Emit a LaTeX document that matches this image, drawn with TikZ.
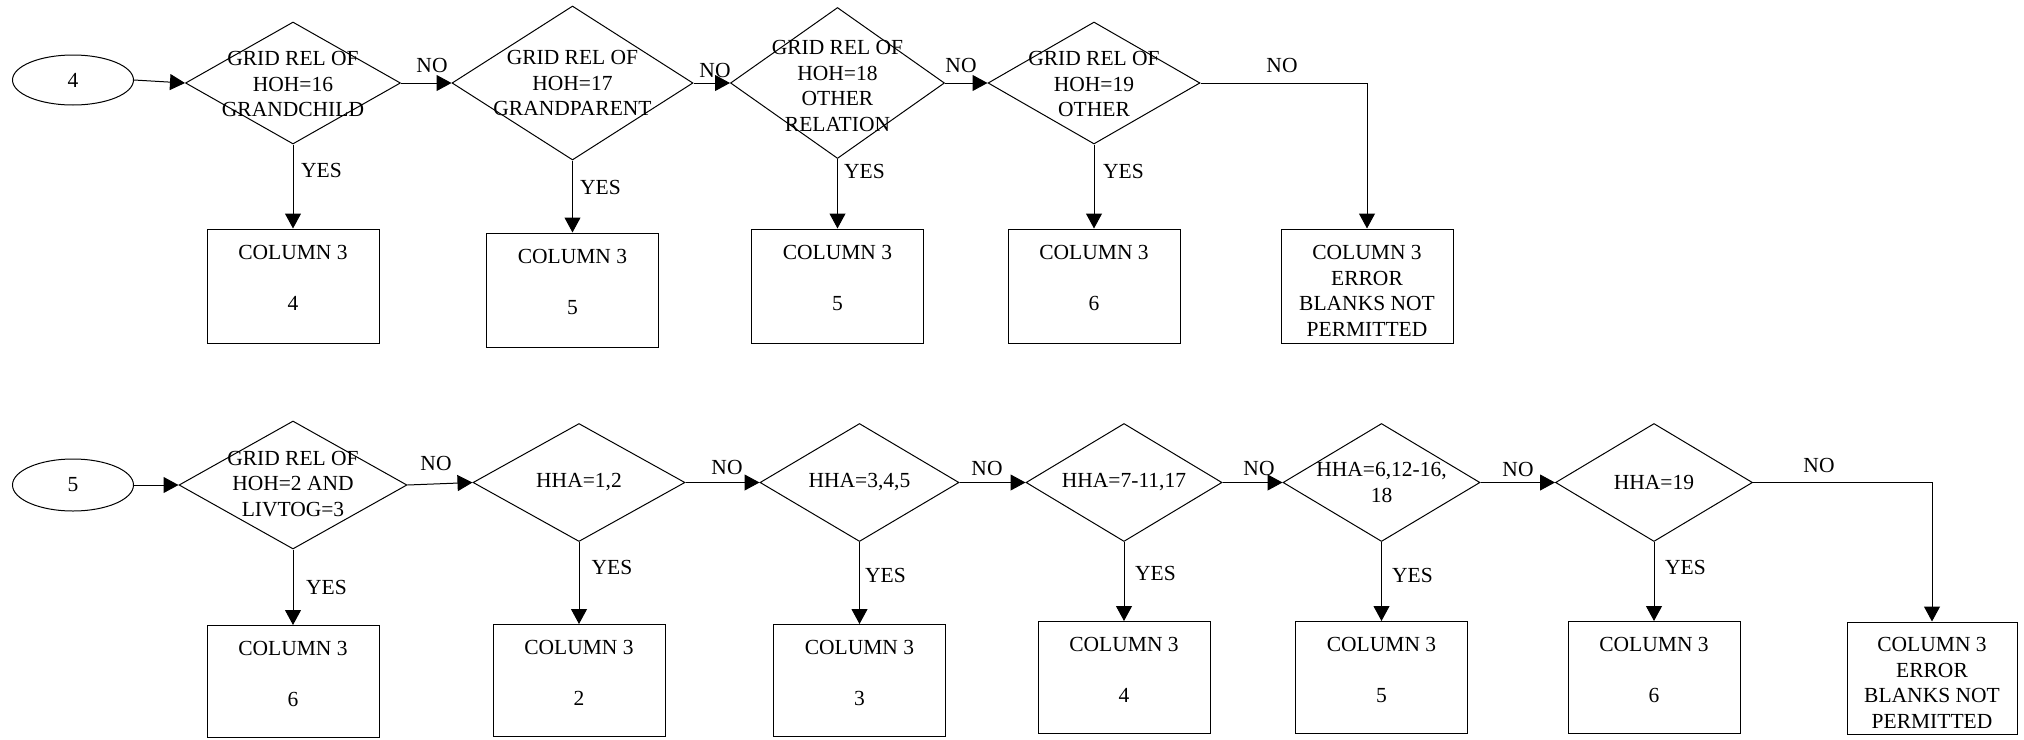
\documentclass[tikz,border=0pt]{standalone}
\usepackage{fontspec}
\setmainfont{Liberation Serif}
\usetikzlibrary{shapes.geometric,arrows.meta}

% raises the top of a text block so that it sits a little lower in its box
\newcommand{\toppad}{\rule{0pt}{24pt}}

\tikzset{
  conn/.style={draw, line width=1pt, -{Triangle[length=15pt,width=16pt]}},
  decision/.style={draw, diamond, inner sep=0pt, line width=1pt},
  dtext/.style={align=center, inner sep=0pt},
  result/.style={draw, rectangle, line width=1pt, inner sep=0pt, align=center,
                 minimum width=172pt},
  start/.style={draw, ellipse, line width=1pt, inner sep=0pt, minimum width=121pt},
  lbl/.style={inner sep=0pt},
  yeslbl/.style={inner sep=0pt, anchor=west},
}

\begin{document}
\begin{tikzpicture}[x=1pt, y=-1pt, font=\fontsize{21.5}{25.5}\selectfont]
\useasboundingbox (0,0) rectangle (2024,739);
\fill[white] (0,0) rectangle (2024,739);

% ---------- first chain: entry 4 ----------
\node[start, minimum height=50pt] (e1) at (73,80) {4};

\node[decision, minimum width=215pt, minimum height=122pt] (d1) at (293,83) {};
\node[dtext] (d1t) at (293,84) {GRID REL OF\\HOH=16\\GRANDCHILD};
\node[decision, minimum width=241pt, minimum height=154pt] (d2) at (572.5,83) {};
\node[dtext] (d2t) at (572.5,83) {GRID REL OF\\HOH=17\\GRANDPARENT};
\node[decision, minimum width=214pt, minimum height=151pt] (d3) at (837.5,83) {};
\node[dtext] (d3t) at (837.5,86) {GRID REL OF\\HOH=18\\OTHER\\RELATION};
\node[decision, minimum width=212pt, minimum height=122pt] (d4) at (1094,83) {};
\node[dtext] (d4t) at (1094,84) {GRID REL OF\\HOH=19\\OTHER};

\node[result, minimum height=114pt] (b1) at (293,286) {\toppad COLUMN 3\\\mbox{}\\4\\\mbox{}};
\node[result, minimum height=114pt] (b2) at (572.5,290) {\toppad COLUMN 3\\\mbox{}\\5\\\mbox{}};
\node[result, minimum height=114pt] (b3) at (837.5,286) {\toppad COLUMN 3\\\mbox{}\\5\\\mbox{}};
\node[result, minimum height=114pt] (b4) at (1094,286) {\toppad COLUMN 3\\\mbox{}\\6\\\mbox{}};
\node[result, minimum height=114pt] (b5) at (1367,286) {\toppad COLUMN 3\\ERROR\\BLANKS NOT\\PERMITTED};

\draw[conn] (e1.east) -- (d1.west);
\draw[conn] (d1.east) -- (d2.west);
\draw[conn] (d2.east) -- (d3.west);
\draw[conn] (d3.east) -- (d4.west);
\draw[conn] (d4.east) -| (b5.north);
\draw[conn] (d1.south) -- (b1.north);
\draw[conn] (d2.south) -- (b2.north);
\draw[conn] (d3.south) -- (b3.north);
\draw[conn] (d4.south) -- (b4.north);

\node[lbl] (n1) at (432,65) {NO};
\node[lbl] (n2) at (715,70) {NO};
\node[lbl] (n3) at (961,65) {NO};
\node[lbl] (n4) at (1282,65) {NO};
\node[yeslbl] (y1) at (301,170) {YES};
\node[yeslbl] (y2) at (580,187) {YES};
\node[yeslbl] (y3) at (844,171) {YES};
\node[yeslbl] (y4) at (1103,171) {YES};

% ---------- second chain: entry 5 ----------
\node[start, minimum height=52pt] (e2) at (73,485) {5};

\node[decision, minimum width=228pt, minimum height=128pt] (d5) at (293,485) {};
\node[dtext] (d5t) at (293,484) {GRID REL OF\\HOH=2 AND\\LIVTOG=3};
\node[decision, minimum width=212pt, minimum height=118pt] (d6) at (579,482.5) {};
\node[dtext] (d6t) at (579,482.5) {HHA=1,2};
\node[decision, minimum width=199pt, minimum height=118pt] (d7) at (859.5,482.5) {};
\node[dtext] (d7t) at (859.5,482.5) {HHA=3,4,5};
\node[decision, minimum width=196pt, minimum height=118pt] (d8) at (1124,482.5) {};
\node[dtext] (d8t) at (1124,482.5) {HHA=7-11,17};
\node[decision, minimum width=197pt, minimum height=118pt] (d9) at (1381.5,482.5) {};
\node[dtext] (d9t) at (1381.5,482.5) {HHA=6,12-16,\\18};
\node[decision, minimum width=197pt, minimum height=118pt] (d10) at (1654,482.5) {};
\node[dtext] (d10t) at (1654,482.5) {HHA=19};

\node[result, minimum height=112pt] (b6) at (293,681.5) {\toppad COLUMN 3\\\mbox{}\\6\\\mbox{}};
\node[result, minimum height=112pt] (b7) at (579,680.5) {\toppad COLUMN 3\\\mbox{}\\2\\\mbox{}};
\node[result, minimum height=112pt] (b8) at (859.5,680.5) {\toppad COLUMN 3\\\mbox{}\\3\\\mbox{}};
\node[result, minimum height=112pt] (b9) at (1124,677.5) {\toppad COLUMN 3\\\mbox{}\\4\\\mbox{}};
\node[result, minimum height=112pt] (b10) at (1381.5,677.5) {\toppad COLUMN 3\\\mbox{}\\5\\\mbox{}};
\node[result, minimum height=112pt] (b11) at (1654,677.5) {\toppad COLUMN 3\\\mbox{}\\6\\\mbox{}};
\node[result, minimum height=112pt, minimum width=170pt] (b12) at (1932,678) {\toppad COLUMN 3\\ERROR\\BLANKS NOT\\PERMITTED};

\draw[conn] (e2.east) -- (d5.west);
\draw[conn] (d5.east) -- (d6.west);
\draw[conn] (d6.east) -- (d7.west);
\draw[conn] (d7.east) -- (d8.west);
\draw[conn] (d8.east) -- (d9.west);
\draw[conn] (d9.east) -- (d10.west);
\draw[conn] (d10.east) -| (b12.north);
\draw[conn] (d5.south) -- (b6.north);
\draw[conn] (d6.south) -- (b7.north);
\draw[conn] (d7.south) -- (b8.north);
\draw[conn] (d8.south) -- (b9.north);
\draw[conn] (d9.south) -- (b10.north);
\draw[conn] (d10.south) -- (b11.north);

\node[lbl] (n5) at (436,463) {NO};
\node[lbl] (n6) at (727,467) {NO};
\node[lbl] (n7) at (987,468) {NO};
\node[lbl] (n8) at (1259,468) {NO};
\node[lbl] (n9) at (1518,469) {NO};
\node[lbl] (n10) at (1819,465) {NO};
\node[yeslbl] (y5) at (306,587) {YES};
\node[yeslbl] (y6) at (591.5,567) {YES};
\node[yeslbl] (y7) at (865,575) {YES};
\node[yeslbl] (y8) at (1135,573) {YES};
\node[yeslbl] (y9) at (1392,575) {YES};
\node[yeslbl] (y10) at (1665,567) {YES};
\end{tikzpicture}
\end{document}
